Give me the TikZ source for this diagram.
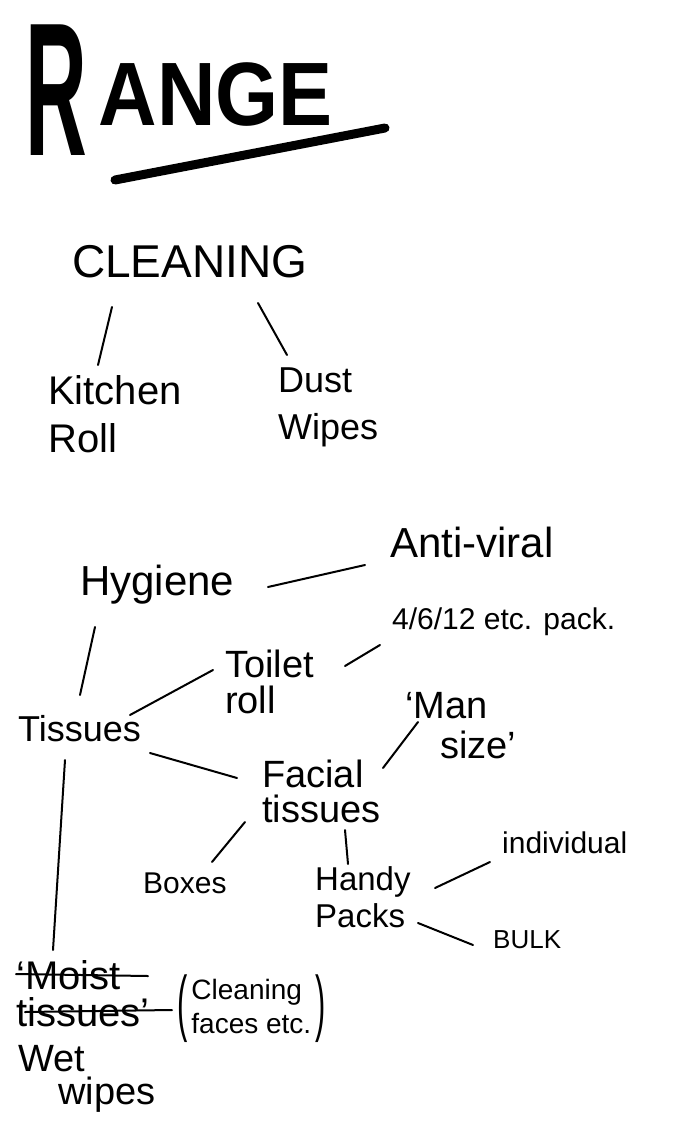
\documentclass[tikz,border=0pt]{standalone}
\usepackage{fontspec}
\setmainfont{Liberation Sans}
\newcommand{\handsize}[2]{\fontsize{#1}{#2}\selectfont}
\newcommand{\tallparen}[1]{\raisebox{-12pt}{\scalebox{1.1}[2.6]{#1}}}

\begin{document}
\begin{tikzpicture}[x=1pt,y=-1pt,
    word/.style={anchor=north west,inner sep=0pt,align=left},
    twig/.style={line width=2pt,line cap=round}]
  \fill[white] (0,0) rectangle (698,1142);
  \useasboundingbox (0,0) rectangle (698,1142);

  % title
  \node[word,font=\bfseries] (range) at (25,25)
    {\scalebox{0.45}[1]{\handsize{190}{190}R}\hspace{12pt}\raisebox{30pt}{\scalebox{0.9}[1]{\handsize{90}{90}ANGE}}};
  \draw[line width=9pt,line cap=round] (115,180) -- (385,128);

  % cleaning branch
  \node[word,font=\handsize{46}{50}] (clean) at (72,245) {CLEANING};
  \node[word,font=\handsize{40}{48}] (kitchen) at (48,375) {Kitchen\\Roll};
  \node[word,font=\handsize{36}{47}] (dust) at (278,368) {Dust\\Wipes};
  \draw[twig] ([shift={(40,62)}]clean.north west) -- ([shift={(50,-10)}]kitchen.north west);
  \draw[twig] ([shift={(186,58)}]clean.north west) -- ([shift={(9,-13)}]dust.north west);

  % hygiene branch
  \node[word,font=\handsize{42}{50}] (hyg) at (80,565) {Hygiene};
  \node[word,font=\handsize{42}{50}] (anti) at (390,527) {Anti-viral};
  \node[word,font=\handsize{30}{36}] (pack) at (392,608) {4/6/12 etc. pack.};
  \node[word,font=\handsize{38}{36}] (toilet) at (225,650) {Toilet\\roll};
  \node[word,font=\handsize{36}{40}] (tissues) at (18,715) {Tissues};
  \node[word,font=\handsize{38}{35}] (facial) at (262,760) {Facial\\tissues};
  \node[word,font=\handsize{38}{40}] (man) at (405,692) {‘Man\\\hspace*{35pt}size’};
  \node[word,font=\handsize{30}{36}] (boxes) at (143,873) {Boxes};
  \node[word,font=\handsize{33}{37}] (handy) at (315,866) {Handy\\Packs};
  \node[word,font=\handsize{30}{34}] (indiv) at (502,832) {individual};
  \node[word,font=\handsize{26}{30}] (bulk) at (493,930) {BULK};
  \node[word,font=\handsize{40}{37}] (moist) at (16,960) {‘Moist\\tissues’};
  \node[word,font=\handsize{28}{34}] (faces) at (177,975)
    {\tallparen{(}\hspace{4pt}\begin{tabular}{@{}l@{}}Cleaning\\faces etc.\end{tabular}\hspace{4pt}\tallparen{)}};
  \node[word,font=\handsize{38}{33}] (wet) at (18,1045) {Wet\\\hspace*{40pt}wipes};

  % crossed out
  \draw[twig] ([shift={(0,14)}]moist.north west) -- ([shift={(132,16)}]moist.north west);
  \draw[twig] ([shift={(9,52)}]moist.north west) -- ([shift={(156,50)}]moist.north west);

  \draw[twig] ([shift={(188,22)}]hyg.north west) -- ([shift={(-25,38)}]anti.north west);
  \draw[twig] ([shift={(15,62)}]hyg.north west) -- ([shift={(62,-20)}]tissues.north west);
  \draw[twig] ([shift={(112,0)}]tissues.north west) -- ([shift={(-12,20)}]toilet.north west);
  \draw[twig] ([shift={(120,16)}]toilet.north west) -- ([shift={(-12,37)}]pack.north west);
  \draw[twig] ([shift={(132,38)}]tissues.north west) -- ([shift={(-25,18)}]facial.north west);
  \draw[twig] ([shift={(121,8)}]facial.north west) -- ([shift={(13,30)}]man.north west);
  \draw[twig] ([shift={(-17,62)}]facial.north west) -- ([shift={(69,-11)}]boxes.north west);
  \draw[twig] ([shift={(83,70)}]facial.north west) -- ([shift={(33,-2)}]handy.north west);
  \draw[twig] ([shift={(120,22)}]handy.north west) -- ([shift={(-12,30)}]indiv.north west);
  \draw[twig] ([shift={(103,57)}]handy.north west) -- ([shift={(-20,15)}]bulk.north west);
  \draw[twig] ([shift={(47,45)}]tissues.north west) -- ([shift={(37,-10)}]moist.north west);
\end{tikzpicture}
\end{document}
